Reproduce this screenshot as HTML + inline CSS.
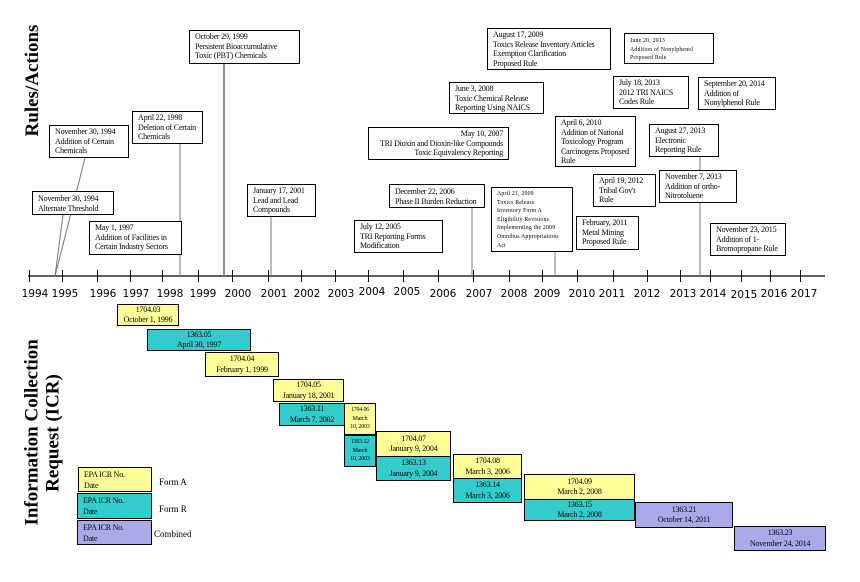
<!DOCTYPE html>
<html><head><meta charset="utf-8"><style>
body{margin:0;background:#fff;width:860px;height:582px;position:relative;overflow:hidden}
.b{position:absolute;border:1px solid #000;background:#fff;font:8px/9.6px "Liberation Serif",serif;padding:1px 5px;box-sizing:border-box;letter-spacing:-0.2px;white-space:nowrap;color:#000}
.s{font-size:5.8px;line-height:8.6px;letter-spacing:0.2px}
.c{position:absolute;border:1.5px solid #000;font:8px/10.5px "Liberation Serif",serif;text-align:center;box-sizing:border-box;display:flex;flex-direction:column;justify-content:center;letter-spacing:-0.2px;color:#000}
.y{background:#ffff99}.t{background:#33cccc}.p{background:#aaaaea}
.yr{position:absolute;top:288px;font:10.5px "DejaVu Sans",sans-serif;transform:translateX(-50%)}
.tk{position:absolute;top:270px;width:1.3px;height:12px;background:#000}
.ttl{position:absolute;font:bold 19px/21px "Liberation Serif",serif;transform:rotate(-90deg);white-space:nowrap;text-align:center}
.lg{position:absolute;font:9px "Liberation Serif",serif}
.l{position:absolute;text-align:left;font-size:8px;line-height:11px;padding-left:5px}
</style></head><body>
<div class="ttl" style="left:-35px;top:70px;width:135px">Rules/Actions</div>
<div class="ttl" style="left:-50px;top:412px;width:185px">Information Collection<br>Request (ICR)</div>

<svg width="860" height="582" style="position:absolute;left:0;top:0">
<line x1="28" y1="276" x2="825" y2="276" stroke="#000" stroke-width="1.3"/>
<g stroke="#777" stroke-width="1">
<line x1="63" y1="215" x2="55" y2="276"/>
<line x1="85" y1="158" x2="55" y2="276"/>
<line x1="180" y1="144" x2="180" y2="276"/>
<line x1="224" y1="64" x2="224" y2="276" stroke-width="1.6"/>
<line x1="271" y1="217" x2="271" y2="276"/>
<line x1="472" y1="208" x2="472" y2="276"/>
<line x1="555" y1="252" x2="555" y2="276"/>
<line x1="700" y1="157" x2="700" y2="276"/>
</g>
</svg>

<div class="tk" style="left:29px"></div><div class="tk" style="left:62px"></div><div class="tk" style="left:97px"></div><div class="tk" style="left:130px"></div><div class="tk" style="left:162px"></div><div class="tk" style="left:198px"></div><div class="tk" style="left:232px"></div><div class="tk" style="left:268px"></div><div class="tk" style="left:301px"></div><div class="tk" style="left:335px"></div><div class="tk" style="left:368px"></div><div class="tk" style="left:403px"></div><div class="tk" style="left:438px"></div><div class="tk" style="left:473px"></div><div class="tk" style="left:509px"></div><div class="tk" style="left:542px"></div><div class="tk" style="left:577px"></div><div class="tk" style="left:613px"></div><div class="tk" style="left:647px"></div><div class="tk" style="left:680px"></div><div class="tk" style="left:710px"></div><div class="tk" style="left:741px"></div><div class="tk" style="left:770px"></div><div class="tk" style="left:800px"></div>

<div class="yr" style="left:35px">1994</div><div class="yr" style="left:65px">1995</div><div class="yr" style="left:103px">1996</div><div class="yr" style="left:136px">1997</div><div class="yr" style="left:170px">1998</div><div class="yr" style="left:203px">1999</div><div class="yr" style="left:238px">2000</div><div class="yr" style="left:274px">2001</div><div class="yr" style="left:307px">2002</div><div class="yr" style="left:341px">2003</div><div class="yr" style="left:372px;top:286px">2004</div><div class="yr" style="left:407px;top:286px">2005</div><div class="yr" style="left:443px">2006</div><div class="yr" style="left:479px">2007</div><div class="yr" style="left:514px">2008</div><div class="yr" style="left:547px">2009</div><div class="yr" style="left:582px">2010</div><div class="yr" style="left:612px">2011</div><div class="yr" style="left:647px">2012</div><div class="yr" style="left:683px">2013</div><div class="yr" style="left:713px">2014</div><div class="yr" style="left:744px;top:289px">2015</div><div class="yr" style="left:774px">2016</div><div class="yr" style="left:804px">2017</div>

<div class="b" style="left:32px;top:191px;width:82px;height:24px;padding-top:2px">November 30, 1994<br>Alternate Threshold</div>
<div class="b" style="left:49px;top:125px;width:80px;height:33px">November 30, 1994<br>Addition of Certain<br>Chemicals</div>
<div class="b" style="left:89px;top:221px;width:93px;height:34px">May 1, 1997<br>Addition of Facilities in<br>Certain Industry Sectors</div>
<div class="b" style="left:132px;top:111px;width:71px;height:33px">April 22, 1998<br>Deletion of Certain<br>Chemicals</div>
<div class="b" style="left:189px;top:30px;width:111px;height:34px">October 29, 1999<br>Persistent Bioaccumulative<br>Toxic (PBT) Chemicals</div>
<div class="b" style="left:247px;top:184px;width:69px;height:33px">January 17, 2001<br>Lead and Lead<br>Compounds</div>
<div class="b" style="left:354px;top:220px;width:89px;height:33px">July 12, 2005<br>TRI Reporting Forms<br>Modification</div>
<div class="b" style="left:368px;top:127px;width:141px;height:33px;text-align:right">May 10, 2007<br>TRI Dioxin and Dioxin-like Compounds<br>Toxic Equivalency Reporting</div>
<div class="b" style="left:389px;top:184px;width:96px;height:24px;padding-top:2px">December 22, 2006<br>Phase II Burden Reduction</div>
<div class="b" style="left:449px;top:82px;width:95px;height:32px">June 3, 2008<br>Toxic Chemical Release<br>Reporting Using NAICS</div>
<div class="b" style="left:487px;top:28px;width:124px;height:42px">August 17, 2009<br>Toxics Release Inventory Articles<br>Exemption Clarification<br>Proposed Rule</div>
<div class="b s" style="left:491px;top:187px;width:82px;height:65px;padding-top:2px">April 21, 2009<br>Toxics Release<br>Inventory Form A<br>Eligibility Revisions<br>Implementing the 2009<br>Omnibus Appropriations<br>Act</div>
<div class="b" style="left:555px;top:116px;width:81px;height:51px">April 6, 2010<br>Addition of National<br>Toxicology Program<br>Carcinogens Proposed<br>Rule</div>
<div class="b" style="left:576px;top:216px;width:63px;height:34px">February, 2011<br>Metal Mining<br>Proposed Rule</div>
<div class="b s" style="left:624px;top:33px;width:90px;height:31px;padding-top:3px">June 20, 2013<br>Addition of Nonylphenol<br>Proposed Rule</div>
<div class="b" style="left:613px;top:76px;width:76px;height:33px">July 18, 2013<br>2012 TRI NAICS<br>Codes Rule</div>
<div class="b" style="left:698px;top:77px;width:78px;height:33px">September 20, 2014<br>Addition of<br>Nonylphenol Rule</div>
<div class="b" style="left:649px;top:124px;width:70px;height:33px">August 27, 2013<br>Electronic<br>Reporting Rule</div>
<div class="b" style="left:593px;top:174px;width:63px;height:33px">April 19, 2012<br>Tribal Gov't<br>Rule</div>
<div class="b" style="left:659px;top:170px;width:78px;height:33px">November 7, 2013<br>Addition of ortho-<br>Nitrotoluene</div>
<div class="b" style="left:710px;top:223px;width:76px;height:33px">November 23, 2015<br>Addition of 1-<br>Bromopropane Rule</div>

<div class="c y" style="left:117px;top:304px;width:62px;height:22px">1704.03<br>October 1, 1996</div>
<div class="c t" style="left:147px;top:329px;width:104px;height:22px">1363.05<br>April 30, 1997</div>
<div class="c y" style="left:205px;top:352px;width:74px;height:25px">1704.04<br>February 1, 1999</div>
<div class="c y" style="left:273px;top:379px;width:71px;height:23px">1704.05<br>January 18, 2001</div>
<div class="c t" style="left:279px;top:403px;width:66px;height:23px">1363.11<br>March 7, 2002</div>
<div class="c y" style="left:344px;top:403px;width:32px;height:32px;font-size:6px;line-height:8.5px">1704.06<br>March<br>10, 2003</div>
<div class="c t" style="left:344px;top:435px;width:32px;height:32px;font-size:6px;line-height:8.5px">1363.12<br>March<br>10, 2003</div>
<div class="c y" style="left:376px;top:431px;width:75px;height:26px">1704.07<br>January 9, 2004</div>
<div class="c t" style="left:376px;top:456px;width:75px;height:25px">1363.13<br>January 9, 2004</div>
<div class="c y" style="left:453px;top:454px;width:69px;height:25px">1704.08<br>March 3, 2006</div>
<div class="c t" style="left:453px;top:478px;width:69px;height:25px">1363.14<br>March 3, 2006</div>
<div class="c y" style="left:524px;top:474px;width:111px;height:26px">1704.09<br>March 2, 2008</div>
<div class="c t" style="left:524px;top:499px;width:111px;height:22px">1363.15<br>March 2, 2008</div>
<div class="c p" style="left:635px;top:502px;width:98px;height:26px">1363.21<br>October 14, 2011</div>
<div class="c p" style="left:734px;top:526px;width:92px;height:25px">1363.23<br>November 24, 2014</div>

<div class="c y l" style="left:78px;top:467px;width:74px;height:25px">EPA ICR No.<br>Date</div>
<div class="c t l" style="left:77px;top:493px;width:75px;height:26px">EPA ICR No.<br>Date</div>
<div class="c p l" style="left:77px;top:520px;width:75px;height:25px">EPA ICR No.<br>Date</div>
<div class="lg" style="left:159px;top:477px">Form A</div>
<div class="lg" style="left:159px;top:504px">Form R</div>
<div class="lg" style="left:154px;top:529px">Combined</div>
</body></html>
